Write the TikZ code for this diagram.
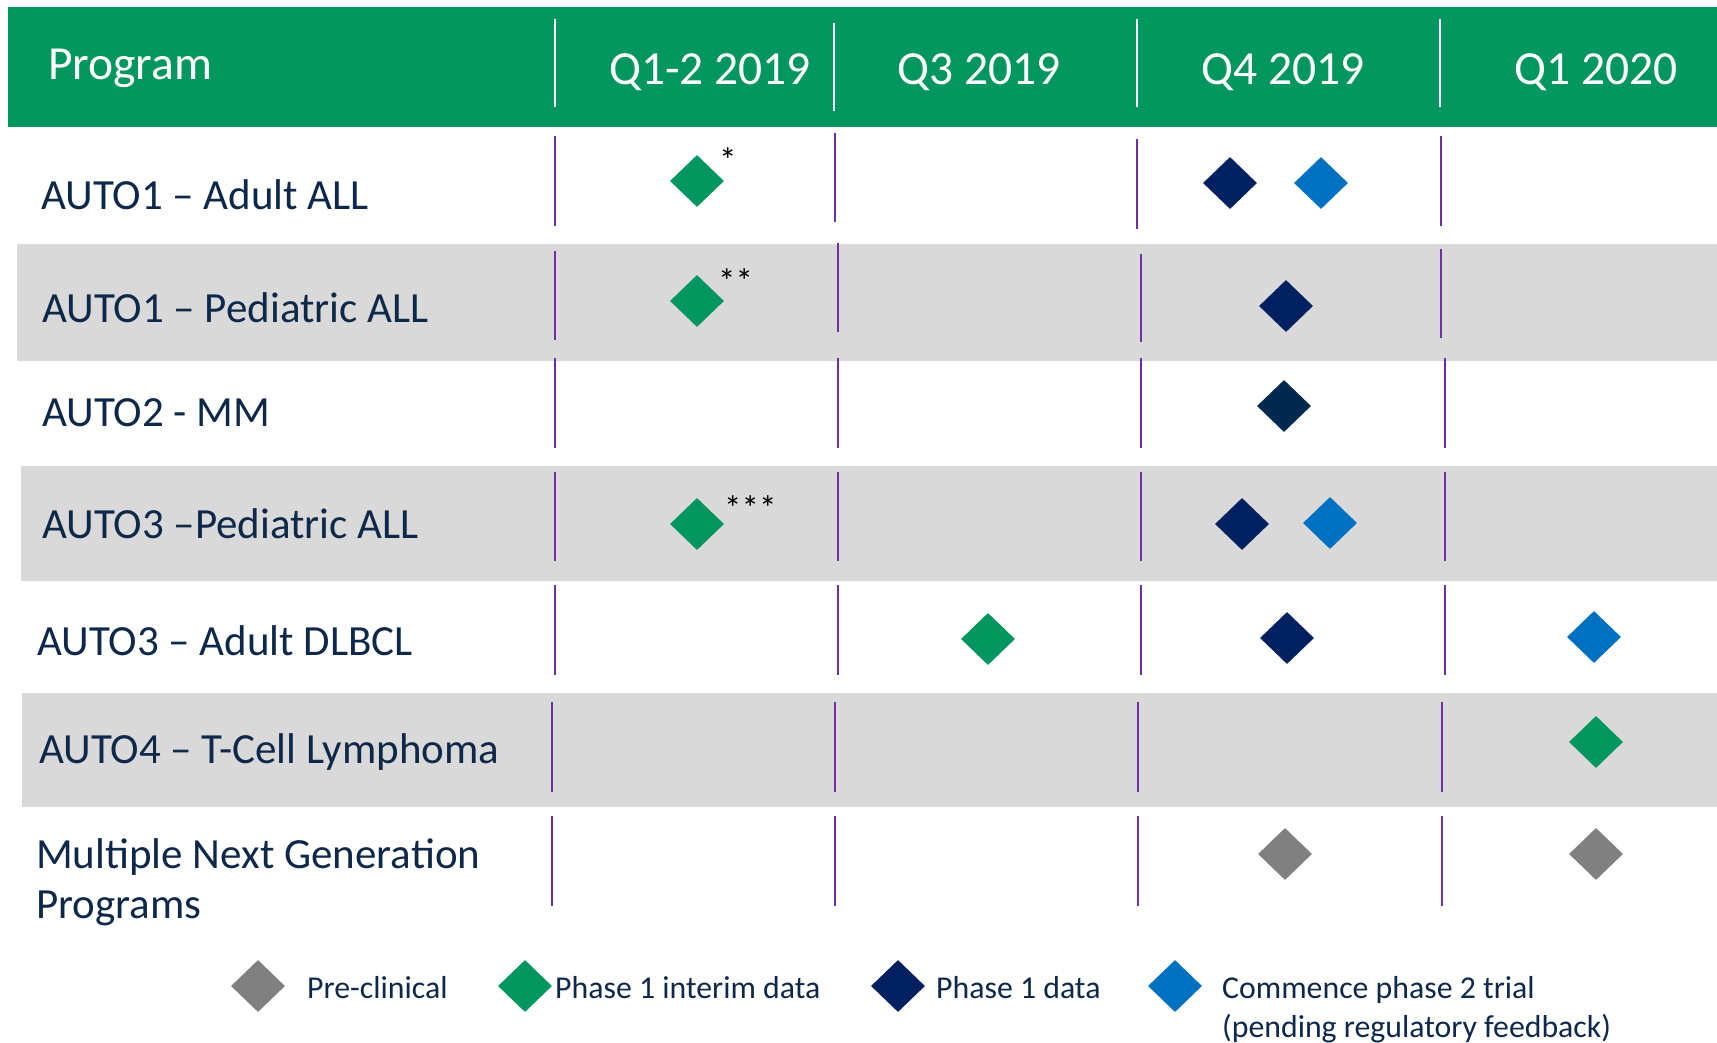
\documentclass[tikz,border=0pt]{standalone}
\usepackage{fontspec}
\setmainfont{Carlito}
\usetikzlibrary{shapes.geometric}
\definecolor{hdrgreen}{HTML}{03965E}
\definecolor{bandgray}{HTML}{D9D9D9}
\definecolor{vline}{HTML}{7030A0}
\definecolor{txtnavy}{HTML}{0D2849}
\definecolor{dnavy}{HTML}{002060}
\definecolor{dnavyb}{HTML}{00294F}
\definecolor{dblue}{HTML}{0070C0}
\definecolor{dgray}{HTML}{808080}
\begin{document}
\begin{tikzpicture}[x=1pt,y=-1pt,
  ms/.style={diamond, aspect=1, minimum width=54pt, minimum height=52pt, inner sep=0pt, draw=none},
  msgreen/.style={ms, fill=hdrgreen},
  msnavy/.style={ms, fill=dnavy},
  msnavyb/.style={ms, fill=dnavyb},
  msblue/.style={ms, fill=dblue},
  msgray/.style={ms, fill=dgray},
  hdr/.style={anchor=base, inner sep=0pt, text=white, font=\fontsize{47.5}{56}\selectfont},
  lbl/.style={anchor=base west, inner sep=0pt, text=txtnavy, font=\fontsize{43}{50}\selectfont},
  leg/.style={anchor=base west, inner sep=0pt, text=txtnavy, font=\fontsize{31.8}{38}\selectfont},
  star/.style={anchor=base west, inner sep=0pt, text=black, font=\fontsize{35}{40}\selectfont},
  hline/.style={draw=white, line width=2.5pt},
  pline/.style={draw=vline, line width=2.8pt}
]
\useasboundingbox (0,0) rectangle (1717,1043);
\fill[white] (0,0) rectangle (1717,1043);

% header
\fill[hdrgreen] (8,7) rectangle (1717,127);
\draw[hline] (555,19) -- (555,107);
\draw[hline] (834,23) -- (834,111);
\draw[hline] (1137,19) -- (1137,107);
\draw[hline] (1440,19) -- (1440,107);
\node[hdr, anchor=base west] (hprog) at (48,80) {Program};
\node[hdr] (hq12) at (710,85) {Q1-2 2019};
\node[hdr] (hq3) at (979,85) {Q3 2019};
\node[hdr] (hq4) at (1283,85) {Q4 2019};
\node[hdr] (hq1) at (1596,85) {Q1 2020};

% bands
\fill[bandgray] (17,244) rectangle (1717,361);
\fill[bandgray] (21,466) rectangle (1717,581);
\fill[bandgray] (22,693) rectangle (1717,807);

% purple column lines
\draw[pline] (555,136) -- (555,226);
\draw[pline] (835,133) -- (835,222);
\draw[pline] (1137,139) -- (1137,229);
\draw[pline] (1441,136) -- (1441,226);

\draw[pline] (555,251) -- (555,340);
\draw[pline] (838,243) -- (838,332);
\draw[pline] (1141,254) -- (1141,342);
\draw[pline] (1441,249) -- (1441,338);

\foreach \ya/\yb in {358/448, 472/561, 585/675}{
  \draw[pline] (555,\ya) -- (555,\yb);
  \draw[pline] (838,\ya) -- (838,\yb);
  \draw[pline] (1141,\ya) -- (1141,\yb);
  \draw[pline] (1445,\ya) -- (1445,\yb);
}
\foreach \ya/\yb in {702/792, 816/906}{
  \draw[pline] (552,\ya) -- (552,\yb);
  \draw[pline] (835,\ya) -- (835,\yb);
  \draw[pline] (1138,\ya) -- (1138,\yb);
  \draw[pline] (1442,\ya) -- (1442,\yb);
}

% row labels
\node[lbl] (l1) at (41,210) {AUTO1 – Adult ALL};
\node[lbl] (l2) at (42,323) {AUTO1 – Pediatric ALL};
\node[lbl] (l3) at (42,426) {AUTO2 - MM};
\node[lbl] (l4) at (42,538) {AUTO3 –Pediatric ALL};
\node[lbl] (l5) at (37,655) {AUTO3 – Adult DLBCL};
\node[lbl] (l6) at (39,763) {AUTO4 – T-Cell Lymphoma};
\node[lbl] (l7a) at (36,868) {Multiple Next Generation};
\node[lbl] (l7b) at (36,918) {Programs};

% milestones
\node[msgreen] (r1a) at (697,181) {};
\node[star] (s1) at (719,173) {*};
\node[msnavy] (r1b) at (1230,183) {};
\node[msblue] (r1c) at (1321,183) {};

\node[msgreen] (r2a) at (697,301) {};
\node[star] (s2) at (718,294) {**};
\node[msnavy] (r2b) at (1286,306) {};

\node[msnavyb] (r3a) at (1284,406) {};

\node[msgreen] (r4a) at (697,524) {};
\node[star] (s4) at (724,520) {***};
\node[msnavy] (r4b) at (1242,524) {};
\node[msblue] (r4c) at (1330,523) {};

\node[msgreen] (r5a) at (988,639) {};
\node[msnavy] (r5b) at (1287,638) {};
\node[msblue] (r5c) at (1594,637) {};

\node[msgreen] (r6a) at (1596,742) {};

\node[msgray] (r7a) at (1285,854) {};
\node[msgray] (r7b) at (1596,854) {};

% legend
\node[msgray] (kg) at (258,986) {};
\node[leg] (tg) at (307,998) {Pre-clinical};
\node[msgreen] (kgr) at (525,986) {};
\node[leg] (tgr) at (555,998) {Phase 1 interim data};
\node[msnavy] (kn) at (898,986) {};
\node[leg] (tn) at (936,998) {Phase 1 data};
\node[msblue] (kb) at (1175,986) {};
\node[leg] (tb) at (1222,998) {Commence phase 2 trial};
\node[leg] (tb2) at (1222,1037) {(pending regulatory feedback)};
\end{tikzpicture}
\end{document}
